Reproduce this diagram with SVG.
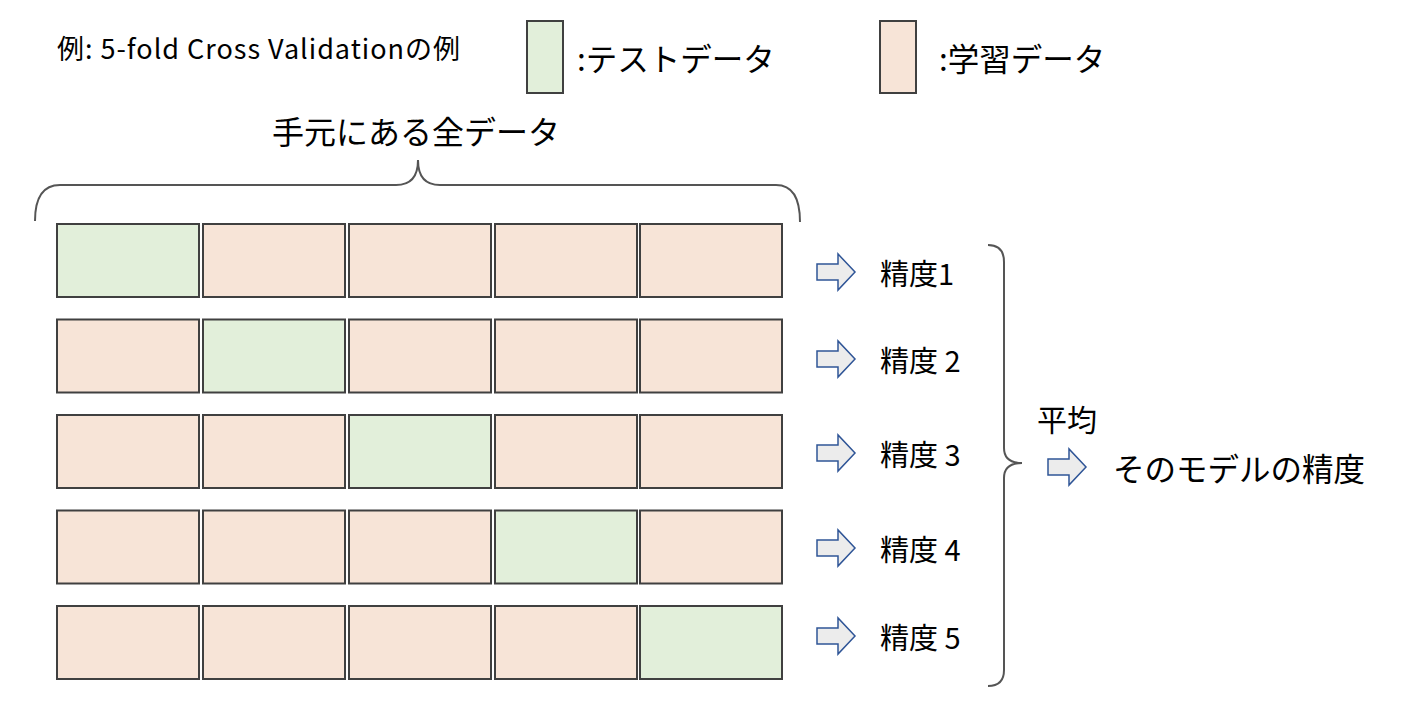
<svg xmlns="http://www.w3.org/2000/svg" width="1404" height="718" viewBox="0 0 1404 718">
<defs>
<style>
.t{font-family:"Noto Sans CJK JP","Noto Sans",sans-serif;fill:#000;dominant-baseline:central}
.test{fill:#e2efda;stroke:#404040;stroke-width:2}
.train{fill:#f7e4d7;stroke:#404040;stroke-width:2}
.br{fill:none;stroke:#555;stroke-width:2}
.ar{fill:#ececec;stroke:#2f5597;stroke-width:1.5;stroke-linejoin:miter}
.acc{font-size:29px}
</style>
<path id="arr" d="M0,-8 L21,-8 L21,-18 L38,0 L21,18 L21,8 L0,8 Z"/>
</defs>
<rect width="1404" height="718" fill="#fff"/>
<g id="title"><text class="t" x="57" y="47" font-size="27" textLength="403" lengthAdjust="spacing">例: 5-fold Cross Validationの例</text></g>
<g id="legend-test"><rect class="test" x="527" y="21" width="36" height="72"/><text class="t" x="577" y="57" font-size="31.5">:テストデータ</text></g>
<g id="legend-train"><rect class="train" x="880" y="21" width="36" height="72"/><text class="t" x="939" y="57" font-size="31.5">:学習データ</text></g>
<g id="all-data-label"><text class="t" x="416" y="130" font-size="32" text-anchor="middle">手元にある全データ</text></g>
<g id="connectors">
<path class="br" d="M35,221 Q35,185 60,185 L396,185 Q418,185 418,160 Q418,185 440,185 L776,185 Q800,185 800,222"/>
<path class="br" d="M988,245 Q1004,245 1004,262 L1004,448 Q1004,463 1022,463 Q1004,463 1004,478 L1004,670 Q1004,686 988,686"/>
</g>
<g id="row1">
<rect class="test" x="57" y="224" width="142" height="73"/>
<rect class="train" x="203" y="224" width="142" height="73"/>
<rect class="train" x="349" y="224" width="142" height="73"/>
<rect class="train" x="495" y="224" width="142" height="73"/>
<rect class="train" x="640" y="224" width="142" height="73"/>
</g>
<g id="row2">
<rect class="train" x="57" y="319.5" width="142" height="73"/>
<rect class="test" x="203" y="319.5" width="142" height="73"/>
<rect class="train" x="349" y="319.5" width="142" height="73"/>
<rect class="train" x="495" y="319.5" width="142" height="73"/>
<rect class="train" x="640" y="319.5" width="142" height="73"/>
</g>
<g id="row3">
<rect class="train" x="57" y="415" width="142" height="73"/>
<rect class="train" x="203" y="415" width="142" height="73"/>
<rect class="test" x="349" y="415" width="142" height="73"/>
<rect class="train" x="495" y="415" width="142" height="73"/>
<rect class="train" x="640" y="415" width="142" height="73"/>
</g>
<g id="row4">
<rect class="train" x="57" y="510.5" width="142" height="73"/>
<rect class="train" x="203" y="510.5" width="142" height="73"/>
<rect class="train" x="349" y="510.5" width="142" height="73"/>
<rect class="test" x="495" y="510.5" width="142" height="73"/>
<rect class="train" x="640" y="510.5" width="142" height="73"/>
</g>
<g id="row5">
<rect class="train" x="57" y="606" width="142" height="73"/>
<rect class="train" x="203" y="606" width="142" height="73"/>
<rect class="train" x="349" y="606" width="142" height="73"/>
<rect class="train" x="495" y="606" width="142" height="73"/>
<rect class="test" x="640" y="606" width="142" height="73"/>
</g>
<g id="acc1"><use href="#arr" class="ar" x="817" y="272"/><text class="t acc" x="880" y="272">精度1</text></g>
<g id="acc2"><use href="#arr" class="ar" x="817" y="359"/><text class="t acc" x="880" y="359">精度 2</text></g>
<g id="acc3"><use href="#arr" class="ar" x="817" y="453"/><text class="t acc" x="880" y="453">精度 3</text></g>
<g id="acc4"><use href="#arr" class="ar" x="817" y="548"/><text class="t acc" x="880" y="548">精度 4</text></g>
<g id="acc5"><use href="#arr" class="ar" x="817" y="636"/><text class="t acc" x="880" y="636">精度 5</text></g>
<g id="average"><text class="t" x="1037" y="418" font-size="30">平均</text></g>
<g id="result"><use href="#arr" class="ar" x="1048" y="467"/><text class="t" x="1113" y="467" font-size="31.5">そのモデルの精度</text></g>
</svg>
